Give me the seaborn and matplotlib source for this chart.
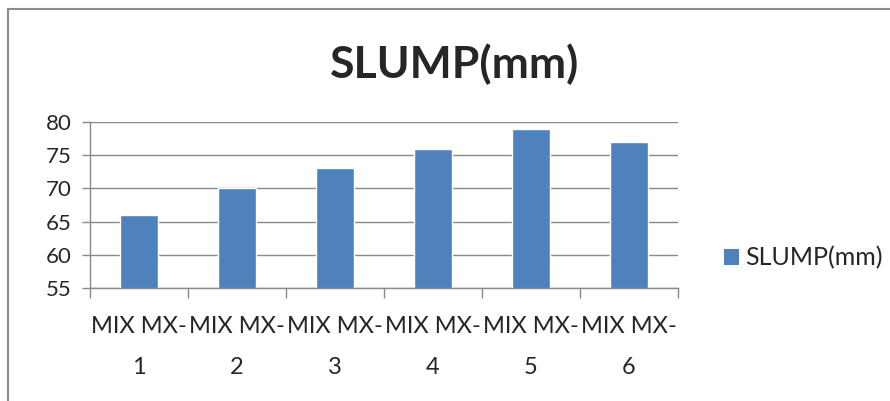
import numpy as np
import pandas as pd
import matplotlib
matplotlib.use('Agg')
import matplotlib.pyplot as plt
import seaborn as sns
from matplotlib.patches import Patch, Rectangle

categories = ['MIX MX-\n1', 'MIX MX-\n2', 'MIX MX-\n3', 'MIX MX-\n4', 'MIX MX-\n5', 'MIX MX-\n6']
slump_mm = [66, 70, 73, 76, 79, 77]
y_ticks = [55, 60, 65, 70, 75, 80]

BAR_COLOR = '#4F81BD'
GRID_COLOR = '#898989'

sns.set_style('white')
plt.rcParams['font.family'] = ['Lato', 'DejaVu Sans']

d = pd.DataFrame({'mix': categories, 'slump': slump_mm})

fig = plt.figure(figsize=(8.9, 4.01), dpi=100)
ax = fig.add_axes([0.1011, 0.2818, 0.6607, 0.414])

sns.barplot(data=d, x='mix', y='slump', color=BAR_COLOR, width=0.39, saturation=1, ax=ax)

ax.set_ylim(55, 80)
ax.set_yticks(y_ticks)
ax.set_xlim(-0.5, len(categories) - 0.5)
for y in y_ticks:
    ax.axhline(y, color=GRID_COLOR, lw=1.0, zorder=0)
ax.set_axisbelow(True)

for s in ['top', 'right']:
    ax.spines[s].set_visible(False)
ax.spines['left'].set_color(GRID_COLOR)
ax.spines['bottom'].set_color(GRID_COLOR)
ax.spines['left'].set_linewidth(1.0)
ax.spines['bottom'].set_linewidth(1.0)

# category separator ticks below the axis
ax.set_xticks(np.arange(len(categories) + 1) - 0.5, minor=True)
ax.tick_params(axis='x', which='minor', bottom=True, length=7, color=GRID_COLOR, width=1.0, direction='out')
ax.tick_params(axis='x', which='major', bottom=False, length=0, pad=20, labelsize=17)
ax.tick_params(axis='y', which='major', left=True, length=6, color=GRID_COLOR, width=1.0,
               direction='out', labelsize=16, pad=7)
ax.set_xticklabels(categories, linespacing=2.2)
ax.set_xlabel('')
ax.set_ylabel('')

fig.text(0.511, 0.84, 'SLUMP(mm)', ha='center', va='center', fontsize=32, fontweight='bold')

ax.legend(handles=[Patch(facecolor=BAR_COLOR, edgecolor='none', label='SLUMP(mm)')],
          loc='center left', bbox_to_anchor=(1.04, 0.18), frameon=False, fontsize=18,
          handlelength=0.6, handleheight=0.6, handletextpad=0.25)

# outer chart frame (only left and top edges visible in crop)
fig.patches.append(Rectangle((0.0095, -0.05), 1.2, 1.027, transform=fig.transFigure,
                             fill=False, edgecolor='#8c8c8c', lw=1.5))

fig.savefig('out.png', dpi=100)
